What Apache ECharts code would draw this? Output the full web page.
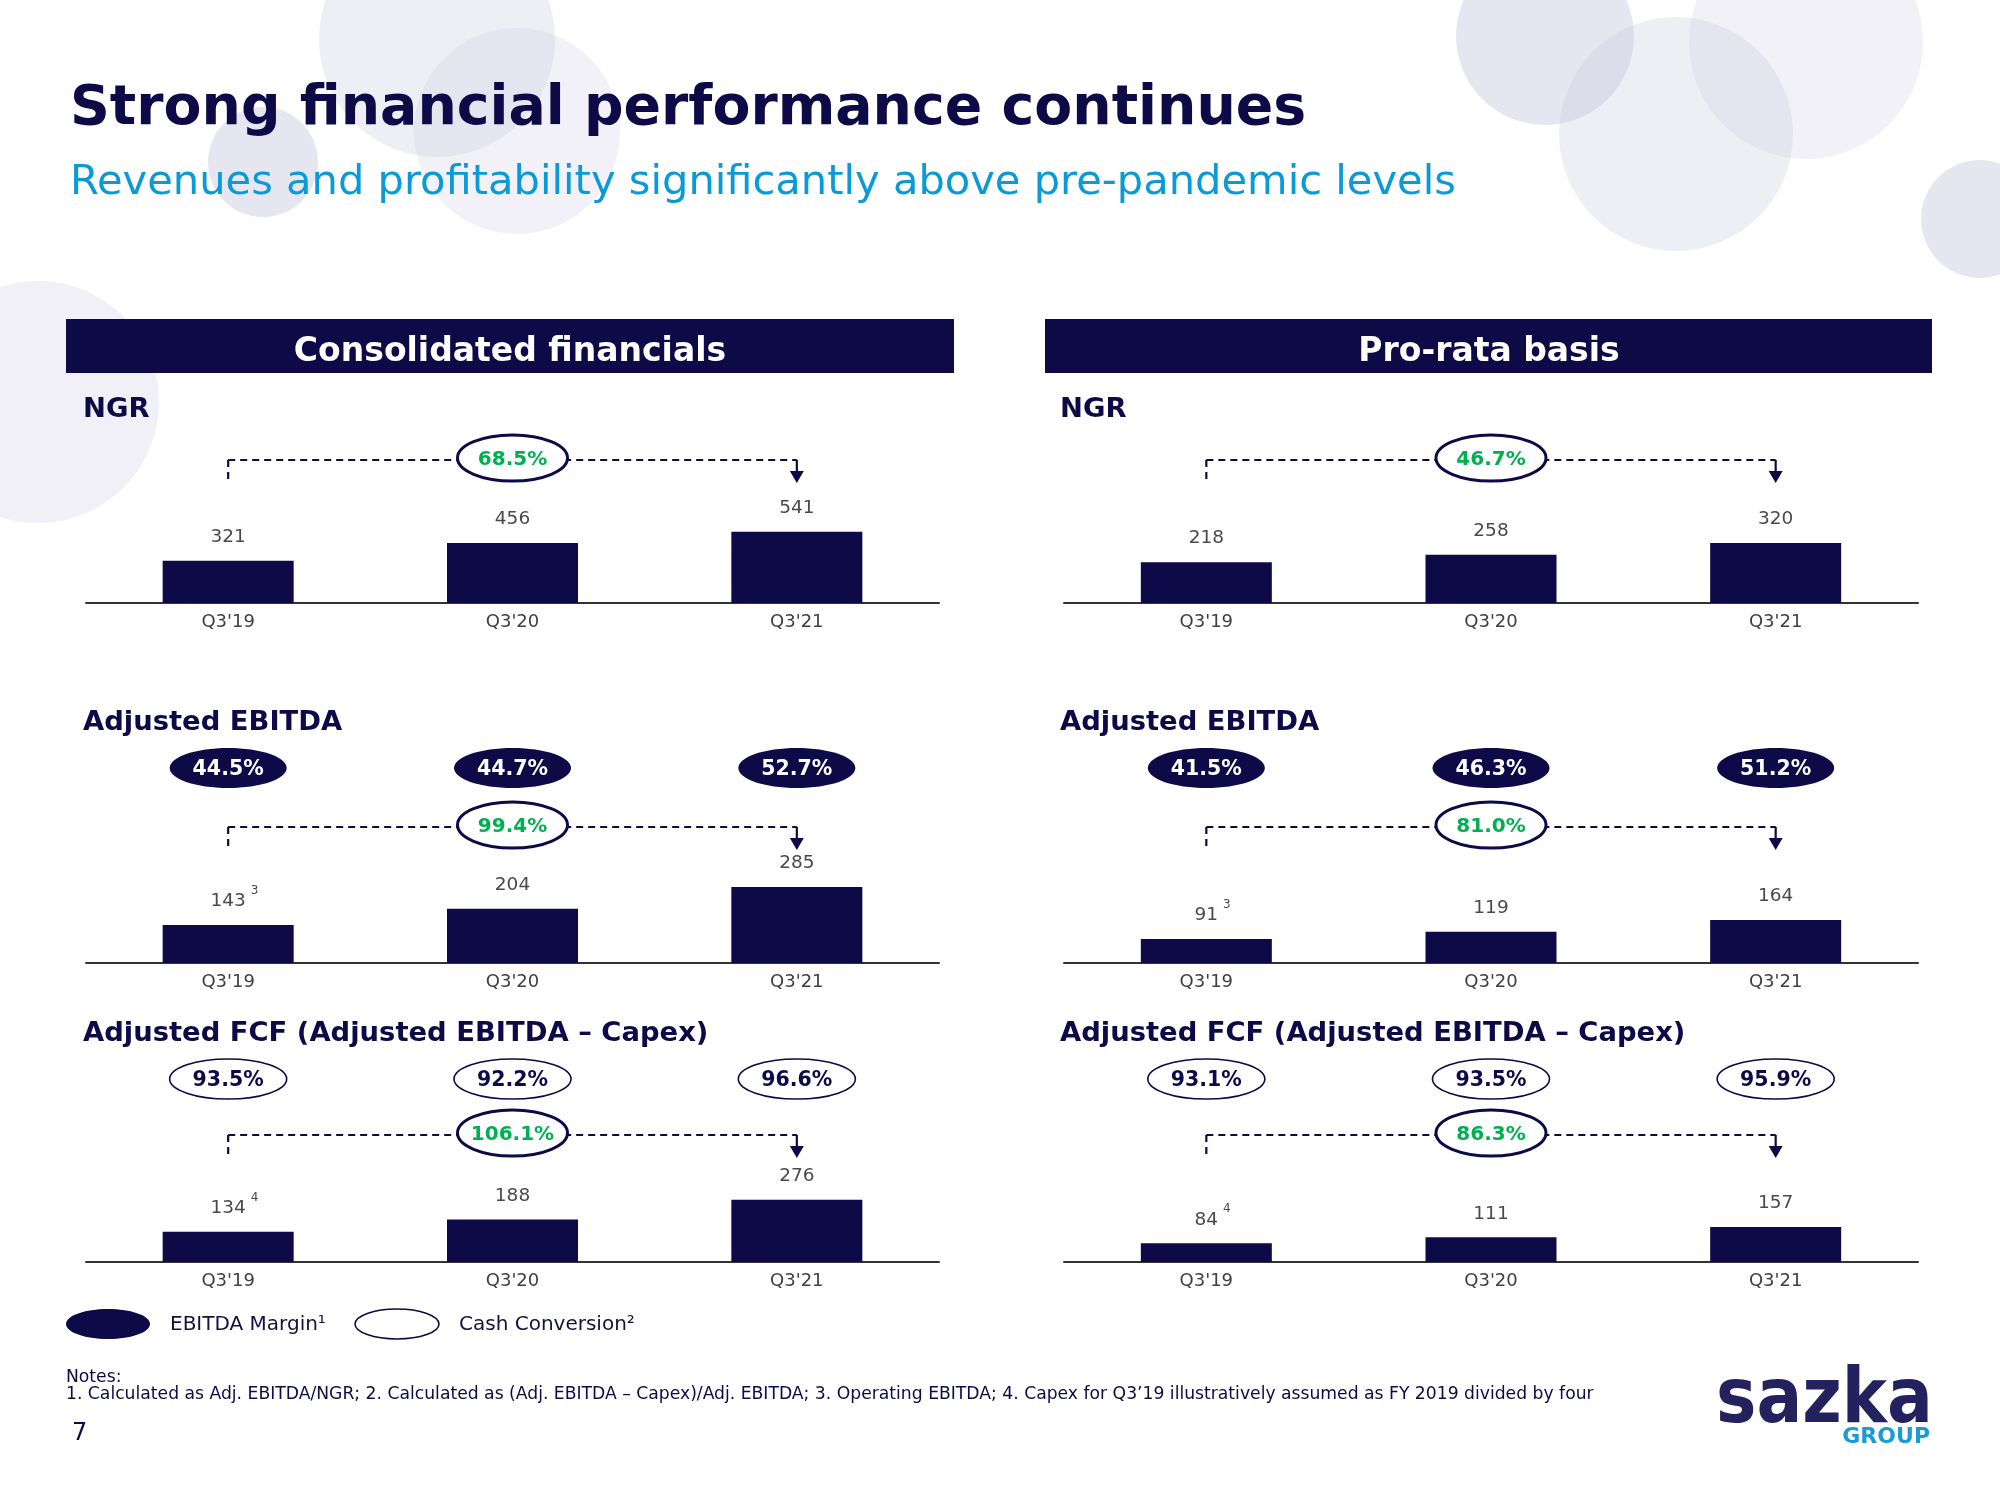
<!DOCTYPE html>
<html>
<head>
<meta charset="utf-8">
<script src="https://cdn.jsdelivr.net/npm/echarts@6/dist/echarts.min.js"></script>
<style>html,body{margin:0;padding:0;background:#fff}#c{width:2000px;height:1500px}</style>
</head>
<body>
<div id="c"></div>
<script>
// ---------------- DATA ----------------
const categories = ["Q3'19", "Q3'20", "Q3'21"];
const consNGR = [321, 456, 541];
const consEBITDA = [143, 204, 285];
const consFCF = [134, 188, 276];
const prNGR = [218, 258, 320];
const prEBITDA = [91, 119, 164];
const prFCF = [84, 111, 157];
const consGrowth = ['68.5%', '99.4%', '106.1%'];   // NGR, EBITDA, FCF growth Q3'19 -> Q3'21
const prGrowth = ['46.7%', '81.0%', '86.3%'];
const consMargin = ['44.5%', '44.7%', '52.7%'];     // EBITDA margin
const prMargin = ['41.5%', '46.3%', '51.2%'];
const consCashConv = ['93.5%', '92.2%', '96.6%'];   // cash conversion
const prCashConv = ['93.1%', '93.5%', '95.9%'];
const ebitdaNote = ['3', '', ''];
const fcfNote = ['4', '', ''];

// ---------------- STYLE / LAYOUT ----------------
const NAVY = '#0d0a47';
const GREEN = '#00b050';
const BLUE = '#0a9ad8';
const FONT = "'DejaVu Sans', Verdana, sans-serif";
const H = 200;
const LX = [86, 939], RX = [1064, 1918];
const panels = [
  {data: consNGR, growth: consGrowth[0], xr: LX, axisY: 603, ppu: 0.1315, lineY: 460},
  {data: consEBITDA, growth: consGrowth[1], xr: LX, axisY: 963, ppu: 0.2664, lineY: 827, notes: ebitdaNote, pills: consMargin, pillY: 768, filled: true},
  {data: consFCF, growth: consGrowth[2], xr: LX, axisY: 1262, ppu: 0.2256, lineY: 1135, notes: fcfNote, pills: consCashConv, pillY: 1079, filled: false},
  {data: prNGR, growth: prGrowth[0], xr: RX, axisY: 603, ppu: 0.1874, lineY: 460},
  {data: prEBITDA, growth: prGrowth[1], xr: RX, axisY: 963, ppu: 0.2625, lineY: 827, notes: ebitdaNote, pills: prMargin, pillY: 768, filled: true},
  {data: prFCF, growth: prGrowth[2], xr: RX, axisY: 1262, ppu: 0.2222, lineY: 1135, notes: fcfNote, pills: prCashConv, pillY: 1079, filled: false}
];
const bgCircles = [
  [437, 39, 118, 0.30], [517, 131, 103, 0.25], [263, 162, 55, 0.45], [38, 402, 121, 0.28],
  [1545, 36, 89, 0.45], [1676, 134, 117, 0.30], [1806, 42, 117, 0.25], [1980, 219, 59, 0.45]
];

const chart = echarts.init(document.getElementById('c'), null, {renderer: 'canvas', width: 2000, height: 1500});

const grids = [], xAxes = [], yAxes = [], series = [];
panels.forEach((p, i) => {
  grids.push({left: p.xr[0], width: p.xr[1] - p.xr[0], top: p.axisY - H, height: H});
  xAxes.push({
    type: 'category', gridIndex: i, data: categories,
    axisLine: {show: true, lineStyle: {color: '#333333', width: 2}},
    axisTick: {show: false},
    axisLabel: {color: '#404040', fontSize: 18, fontFamily: FONT, margin: 10},
    splitLine: {show: false}
  });
  yAxes.push({type: 'value', gridIndex: i, min: 0, max: H / p.ppu, show: false, splitLine: {show: false}});
  series.push({
    type: 'bar', xAxisIndex: i, yAxisIndex: i, data: p.data, barWidth: 131,
    itemStyle: {color: NAVY},
    label: {show: true, position: 'top', distance: 14, color: '#4a4a4a', fontSize: 18.5, fontFamily: FONT},
    silent: true
  });
});

chart.setOption({animation: false, grid: grids, xAxis: xAxes, yAxis: yAxes, series: series});

function txt(s, x, y, o) {
  return {
    type: 'text', x: x, y: y, z: o.z || 20, silent: true,
    scaleX: o.sx || 1, scaleY: o.sy || 1,
    style: {
      text: s, x: 0, y: 0, fill: o.color,
      font: (o.weight || 'normal') + ' ' + o.size + 'px ' + FONT,
      align: o.align || 'left', verticalAlign: o.va || 'middle',
      textAlign: o.align || 'left', textVerticalAlign: o.va || 'middle'
    }
  };
}

const g = [];
bgCircles.forEach(c => g.push({
  type: 'circle', z: -10, silent: true,
  shape: {cx: c[0], cy: c[1], r: c[2]},
  style: {fill: 'rgb(200,200,222)', opacity: c[3]}
}));

// Title & subtitle
g.push(txt('Strong financial performance continues', 70, 110, {size: 55.3, weight: 'bold', color: NAVY}));
g.push(txt('Revenues and profitability significantly above pre-pandemic levels', 70, 183, {size: 41.6, color: BLUE}));

// Section headers
g.push({type: 'rect', z: 1, silent: true, shape: {x: 66, y: 319, width: 888, height: 54}, style: {fill: NAVY}});
g.push({type: 'rect', z: 1, silent: true, shape: {x: 1045, y: 319, width: 887, height: 54}, style: {fill: NAVY}});
g.push(txt('Consolidated financials', 510, 352, {size: 33, weight: 'bold', color: '#ffffff', align: 'center'}));
g.push(txt('Pro-rata basis', 1489, 352, {size: 33, weight: 'bold', color: '#ffffff', align: 'center'}));

// Sub headings
[83, 1060].forEach(hx => {
  g.push(txt('NGR', hx, 410, {size: 27.4, weight: 'bold', color: NAVY}));
  g.push(txt('Adjusted EBITDA', hx, 723, {size: 27.4, weight: 'bold', color: NAVY}));
  g.push(txt('Adjusted FCF (Adjusted EBITDA \u2013 Capex)', hx, 1034, {size: 27.4, weight: 'bold', color: NAVY}));
});

// Per-panel annotations, positioned through the chart's own scales
panels.forEach((p, i) => {
  const pts = categories.map((c, k) => chart.convertToPixel({gridIndex: i}, [c, p.data[k]]));
  const xs = pts.map(q => q[0]);
  const tops = pts.map(q => q[1]);
  const ly = p.lineY;
  const dash = {stroke: NAVY, lineWidth: 2.2, lineDash: [7, 5]};
  g.push({type: 'line', z: 3, silent: true, shape: {x1: xs[0], y1: ly, x2: xs[2], y2: ly}, style: dash});
  g.push({type: 'line', z: 3, silent: true, shape: {x1: xs[0], y1: ly, x2: xs[0], y2: ly + 22}, style: dash});
  g.push({type: 'line', z: 3, silent: true, shape: {x1: xs[2], y1: ly, x2: xs[2], y2: ly + 13}, style: {stroke: NAVY, lineWidth: 2.2}});
  g.push({type: 'polygon', z: 3, silent: true, shape: {points: [[xs[2] - 7, ly + 11], [xs[2] + 7, ly + 11], [xs[2], ly + 23]]}, style: {fill: NAVY}});
  g.push({type: 'ellipse', z: 5, silent: true, shape: {cx: xs[1], cy: ly - 2, rx: 55, ry: 23}, style: {fill: '#ffffff', stroke: NAVY, lineWidth: 3}});
  g.push(txt(p.growth, xs[1], ly - 0.5, {size: 20, weight: 'bold', color: GREEN, align: 'center', z: 6}));
  if (p.pills) {
    p.pills.forEach((v, k) => {
      g.push({type: 'ellipse', z: 5, silent: true, shape: {cx: xs[k], cy: p.pillY, rx: 58.5, ry: 20},
        style: p.filled ? {fill: NAVY} : {fill: '#ffffff', stroke: NAVY, lineWidth: 1.6}});
      g.push(txt(v, xs[k], p.pillY + 1.5, {size: 20.5, weight: 'bold', color: p.filled ? '#ffffff' : NAVY, align: 'center', z: 6}));
    });
  }
  if (p.notes) {
    p.notes.forEach((n, k) => {
      if (!n) return;
      const w = String(p.data[k]).length * 0.636 * 18.5;
      g.push(txt(n, xs[k] + w / 2 + 5, tops[k] - 34, {size: 12, color: '#4a4a4a', align: 'left'}));
    });
  }
});

// Legend
g.push({type: 'ellipse', silent: true, shape: {cx: 108, cy: 1324, rx: 42, ry: 15}, style: {fill: NAVY}});
g.push(txt('EBITDA Margin\u00b9', 170, 1325, {size: 20, color: '#14123d'}));
g.push({type: 'ellipse', silent: true, shape: {cx: 397, cy: 1324, rx: 42, ry: 15}, style: {fill: '#ffffff', stroke: NAVY, lineWidth: 1.6}});
g.push(txt('Cash Conversion\u00b2', 459, 1325, {size: 20, color: '#14123d'}));

// Notes
g.push(txt('Notes:', 66, 1378, {size: 17.2, color: NAVY}));
g.push(txt('1. Calculated as Adj. EBITDA/NGR; 2. Calculated as (Adj. EBITDA \u2013 Capex)/Adj. EBITDA; 3. Operating EBITDA; 4. Capex for Q3\u201919 illustratively assumed as FY 2019 divided by four', 66, 1395, {size: 17.2, color: NAVY}));
g.push(txt('7', 72, 1434, {size: 24, color: NAVY}));

// Logo
g.push(txt('sazka', 1716, 1402, {size: 86, weight: 'bold', color: '#23225e', sx: 0.79, sy: 0.9}));
g.push(txt('GROUP', 1930, 1437, {size: 22, weight: 'bold', color: '#1b9ad6', align: 'right'}));

chart.setOption({graphic: {elements: g}});
</script>
</body>
</html>
